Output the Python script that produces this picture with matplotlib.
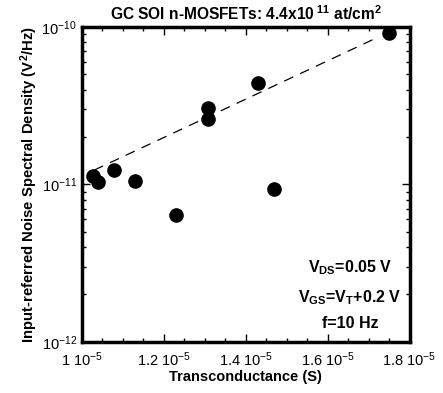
import matplotlib
matplotlib.use('Agg')
import matplotlib.pyplot as plt
import numpy as np
from matplotlib.ticker import FixedLocator, MultipleLocator, LogLocator, NullFormatter

plt.rcParams['font.family'] = ['Liberation Sans', 'DejaVu Sans']
plt.rcParams['mathtext.default'] = 'regular'

# datos
gm = [1.028e-5, 1.040e-5, 1.080e-5, 1.130e-5, 1.229e-5, 1.309e-5, 1.309e-5, 1.430e-5, 1.470e-5, 1.750e-5]
ruido = [1.13e-11, 1.04e-11, 1.23e-11, 1.05e-11, 6.4e-12, 3.04e-11, 2.59e-11, 4.38e-11, 9.3e-12, 9.2e-11]

# recta de ajuste (extremos)
ajuste_x = [1.03e-5, 1.71e-5]
ajuste_y = [1.23e-11, 8.3e-11]

xticks = [1.0e-5, 1.2e-5, 1.4e-5, 1.6e-5, 1.8e-5]
xlabels = [r'1 10$^{-5}$', r'1.2 10$^{-5}$', r'1.4 10$^{-5}$', r'1.6 10$^{-5}$', r'1.8 10$^{-5}$']
yticks = [1e-12, 1e-11, 1e-10]
ylabels = [r'10$^{-12}$', r'10$^{-11}$', r'10$^{-10}$']

fig = plt.figure(figsize=(4.43, 3.93), dpi=100)
ax = fig.add_axes([0.1844, 0.1305, 0.74, 0.8008])

ax.plot(ajuste_x, ajuste_y, color='black', lw=0.9, dashes=(8, 6))
ax.plot(gm, ruido, 'o', color='black', markersize=9.5)

ax.set_yscale('log')
ax.set_xlim(1.0e-5, 1.8e-5)
ax.set_ylim(1e-12, 1e-10)

ax.xaxis.set_major_locator(FixedLocator(xticks))
ax.set_xticklabels(xlabels)
ax.xaxis.set_minor_locator(MultipleLocator(0.05e-5))
ax.yaxis.set_major_locator(FixedLocator(yticks))
ax.set_yticklabels(ylabels)
ax.yaxis.set_minor_locator(LogLocator(base=10, subs=np.arange(2, 10)))
ax.yaxis.set_minor_formatter(NullFormatter())

ax.tick_params(which='both', direction='in', top=True, right=True, labelsize=10.5, width=1)
ax.tick_params(which='major', length=6)
ax.tick_params(which='minor', length=3)
ax.tick_params(axis='x', pad=6)
for s in ax.spines.values():
    s.set_linewidth(2.5)

ax.set_title(r'GC SOI n-MOSFETs: 4.4x10$^{\ 11}$ at/cm$^{2}$', fontsize=11.2, fontweight='bold', pad=5)
ax.set_xlabel('Transconductance (S)', fontsize=10.5, fontweight='bold', labelpad=1)
ax.set_ylabel(r'Input-referred Noise Spectral Density (V$^{2}$/Hz)', fontsize=10.7, fontweight='bold', labelpad=1)

ax.text(0.818, 0.234, r'V$_{DS}$=0.05 V', transform=ax.transAxes, ha='center', va='center', fontsize=11.5, fontweight='bold')
ax.text(0.818, 0.139, r'V$_{GS}$=V$_{T}$+0.2 V', transform=ax.transAxes, ha='center', va='center', fontsize=11.5, fontweight='bold')
ax.text(0.818, 0.059, 'f=10 Hz', transform=ax.transAxes, ha='center', va='center', fontsize=11.5, fontweight='bold')

fig.savefig('out.png', dpi=100)
